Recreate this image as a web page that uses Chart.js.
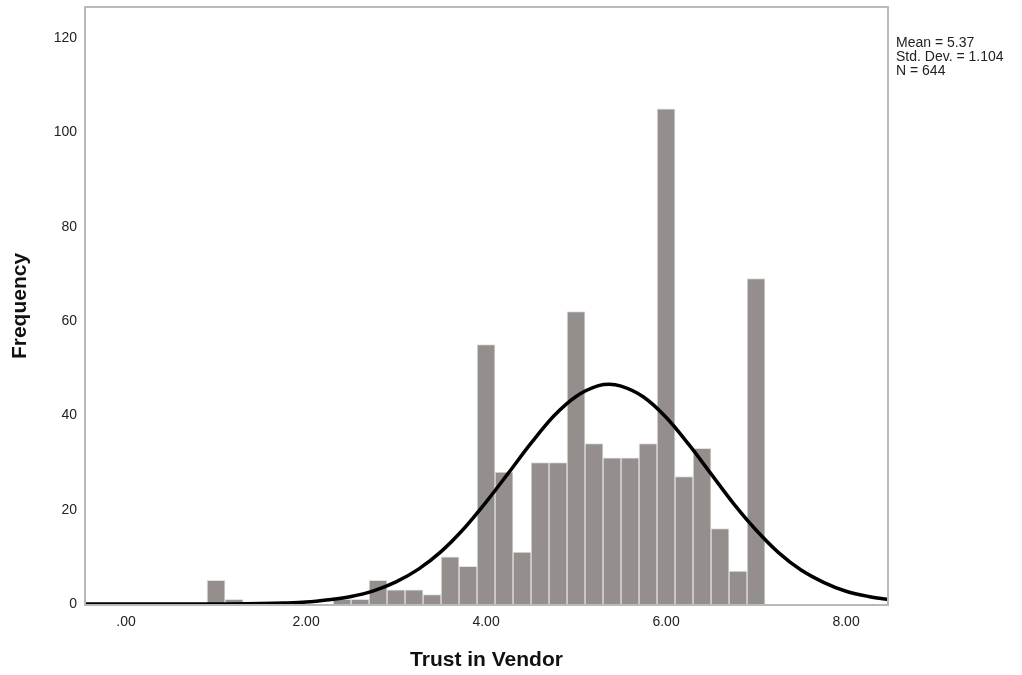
<!DOCTYPE html>
<html>
<head>
<meta charset="utf-8">
<script src="https://cdn.jsdelivr.net/npm/chart.js@4.4.1/dist/chart.umd.min.js"></script>
<style>
  body { margin: 0; background: #fff; }
  #wrap { position: relative; width: 1022px; height: 675px; }
  #stats {
    position: absolute; left: 896px; top: 35px;
    font: 14px "Liberation Sans", Arial, sans-serif; line-height: 14px; color: #222;
  }
</style>
</head>
<body>
<div id="wrap">
  <canvas id="histChart"></canvas>
  <div id="stats">Mean = 5.37<br>Std. Dev. = 1.104<br>N = 644</div>
</div>
<script>
// histogram bins (centre of each 0.2 wide bin) and counts
const binCenters = [1.0, 1.2, 2.4, 2.6, 2.8, 3.0, 3.2, 3.4, 3.6, 3.8, 4.0, 4.2, 4.4, 4.6, 4.8,
  5.0, 5.2, 5.4, 5.6, 5.8, 6.0, 6.2, 6.4, 6.6, 6.8, 7.0];
const counts = [5, 1, 1, 1, 5, 3, 3, 2, 10, 8, 55, 28, 11, 30, 30,
  62, 34, 31, 31, 34, 105, 27, 33, 16, 7, 69];

// normal curve
const curveX = [-0.45, 0, 0.5, 1, 1.5, 1.75, 2, 2.25, 2.5, 2.75, 3, 3.25, 3.5, 3.75, 4, 4.25,
  4.5, 4.75, 5, 5.25, 5.37, 5.5, 5.75, 6, 6.25, 6.5, 6.75, 7, 7.25, 7.5, 7.75, 8, 8.25, 8.46];
const curveY = [0, 0, 0, 0, 0.1, 0.2, 0.4, 0.9, 1.6, 2.8, 4.7, 7.4, 11.1, 15.9, 21.6, 27.8,
  34.1, 39.8, 44.0, 46.3, 46.6, 46.2, 43.9, 39.6, 33.9, 27.6, 21.3, 15.7, 10.9, 7.2, 4.6, 2.7, 1.6, 1.0];

const xTicks = [0, 2, 4, 6, 8];
const yTicks = [0, 20, 40, 60, 80, 100, 120];

const fontFamily = '"Liberation Sans", Arial, sans-serif';

const frame = {
  id: "frame",
  beforeDatasetsDraw(chart) {
    const { ctx, chartArea } = chart;
    ctx.save();
    ctx.strokeStyle = "#b9b9b9";
    ctx.lineWidth = 2;
    ctx.strokeRect(chartArea.left - 1, chartArea.top - 1, chartArea.right - chartArea.left + 2, chartArea.bottom - chartArea.top + 2);
    ctx.restore();
  },
};

const ctx = document.getElementById("histChart");
new Chart(ctx, {
  data: {
    datasets: [
      {
        type: "line",
        data: curveX.map((x, i) => ({ x: x, y: curveY[i] })),
        borderColor: "#000",
        borderWidth: 3.5,
        pointRadius: 0,
        cubicInterpolationMode: "monotone",
        order: 0,
      },
      {
        type: "bar",
        data: binCenters.map((x, i) => ({ x: x, y: counts[i] })),
        backgroundColor: "#948f8d",
        borderColor: "#e2e2e2",
        borderWidth: 1,
        barPercentage: 1,
        categoryPercentage: 1,
        grouped: false,
        order: 1,
      },
    ],
  },
  options: {
    responsive: true,
    maintainAspectRatio: false,
    animation: false,
    layout: { padding: { left: 0, right: 135, top: 0, bottom: 0 } },
    plugins: { legend: { display: false }, tooltip: { enabled: false } },
    scales: {
      x: {
        type: "linear",
        offset: false,
        min: -0.445,
        max: 8.455,
        grid: { display: false, drawTicks: false },
        border: { display: false },
        afterBuildTicks: (scale) => {
          scale.ticks = xTicks.map((v) => ({ value: v }));
        },
        afterFit: (scale) => {
          scale.height = 71;
        },
        ticks: {
          padding: 10,
          color: "#222",
          font: { family: fontFamily, size: 14 },
          callback: (v) => (v === 0 ? ".00" : v.toFixed(2)),
        },
        title: {
          display: true,
          text: "Trust in Vendor",
          color: "#111",
          font: { family: fontFamily, size: 21, weight: "bold" },
          padding: { top: 0, bottom: 2 },
        },
      },
      y: {
        min: 0,
        max: 126.4,
        grid: { display: false, drawTicks: false },
        border: { display: false },
        afterBuildTicks: (scale) => {
          scale.ticks = yTicks.map((v) => ({ value: v }));
        },
        afterFit: (scale) => {
          scale.width = 86;
          scale.paddingTop = 8;
          scale.paddingBottom = 0;
        },
        ticks: {
          padding: 9,
          color: "#222",
          font: { family: fontFamily, size: 14 },
        },
        title: {
          display: true,
          text: "Frequency",
          color: "#111",
          font: { family: fontFamily, size: 21, weight: "bold" },
          padding: { top: 8, bottom: 0 },
        },
      },
    },
  },
  plugins: [frame],
});
</script>
</body>
</html>
